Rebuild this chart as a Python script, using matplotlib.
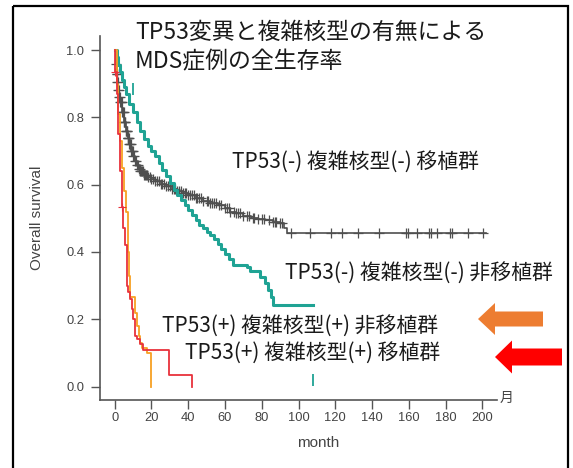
import numpy as np
import matplotlib
matplotlib.use("Agg")
import matplotlib.pyplot as plt
from matplotlib.patches import FancyArrow, Rectangle


# =====================================
# Fonts
# =====================================

plt.rcParams["font.family"] = ["Noto Sans CJK JP", "DejaVu Sans"]
LATIN = ["Liberation Sans", "DejaVu Sans"]


# =====================================
# Kaplan-Meier curves
# =====================================

# TP53(-) 複雑核型(-) 移植群  (gray)
gray_t = [0, 0.5, 1, 1.5, 2, 2.5, 3, 4, 5, 6, 7, 8, 9, 10, 11, 12, 13, 14,
          16, 18, 20, 22, 25, 28, 31, 34, 37, 40, 44, 48, 52, 56, 60, 63, 66,
          70, 74, 78, 82, 86, 90, 92, 93.5]
gray_s = [1.0, 0.96, 0.93, 0.905, 0.88, 0.86, 0.845, 0.815, 0.785, 0.76,
          0.74, 0.72, 0.70, 0.685, 0.67, 0.658, 0.648, 0.64, 0.63, 0.622,
          0.616, 0.61, 0.602, 0.596, 0.588, 0.58, 0.575, 0.568, 0.56, 0.553,
          0.546, 0.54, 0.53, 0.52, 0.515, 0.508, 0.50, 0.497, 0.494, 0.49,
          0.485, 0.47, 0.455]
gray_end = 202
gray_cens = [0.8, 1, 1.3, 1.5, 1.8, 2, 2.3, 2.5, 2.8, 3, 3.3, 3.5, 3.8, 4,
             4.3, 4.5, 4.8, 5, 5.3, 5.5, 5.8, 6, 6.3, 6.5, 6.8, 7, 7.3, 7.5,
             7.8, 8, 8.3, 8.5, 8.8, 9, 9.3, 9.5, 9.8, 10, 10.5, 11, 11.5, 12,
             12.5, 13, 13.5, 14, 14.5, 15, 15.5, 16, 16.5, 17, 17.5, 18, 19,
             20, 21, 22, 23, 24, 25, 26, 27, 28, 29, 30, 31, 32, 33, 34, 35,
             36, 37, 38, 39, 40, 41, 42, 43, 44, 45, 46, 47, 48, 50, 51, 52,
             53, 54, 55, 57, 58, 60, 61, 62, 63, 65, 66, 67, 68, 70, 72, 73,
             75, 76, 78, 80, 81, 84, 86, 87, 88, 90, 91, 95.7, 106.1, 117.5,
             123.9, 132.4, 143.8, 158.3, 159.6, 164.6, 170.9, 172.3, 175.3,
             182.2, 183.7, 192.2, 200.4]

# TP53(-) 複雑核型(-) 非移植群  (teal)
teal_t = [0, 1, 2, 3, 4, 5, 6, 8, 10, 12, 14, 16, 18, 20, 22, 24, 26, 28,
          30, 32, 34, 36, 38, 40, 42, 44, 46, 48, 50, 52, 54, 56, 58, 60, 62,
          64.5, 68, 72, 73.6, 79, 81.7, 83.5, 85.3, 86]
teal_s = [1.0, 0.98, 0.955, 0.935, 0.91, 0.89, 0.87, 0.84, 0.815, 0.785,
          0.76, 0.735, 0.715, 0.70, 0.685, 0.665, 0.645, 0.625, 0.605, 0.585,
          0.57, 0.555, 0.54, 0.525, 0.51, 0.495, 0.48, 0.47, 0.46, 0.45, 0.44,
          0.425, 0.41, 0.395, 0.38, 0.362, 0.36, 0.355, 0.342, 0.327, 0.308,
          0.287, 0.267, 0.243]
teal_end = 108
teal_tick_t = [10, 108]
teal_tick_s = [0.885, 0.02]

# TP53(+) 複雑核型(+) 移植群  (red)
red_t = [0, 0.25, 1, 2, 3, 3.8, 4.7, 5.6, 6.5, 7.5, 8.3, 9.2, 10, 11, 12,
         13.7, 15.5, 29.5, 42]
red_s = [1.0, 0.935, 0.87, 0.75, 0.64, 0.535, 0.47, 0.42, 0.30, 0.28, 0.26,
         0.23, 0.20, 0.15, 0.14, 0.125, 0.109, 0.035, 0.0]
red_cens = [0.3, 3.9]

# TP53(+) 複雑核型(+) 非移植群  (orange)
orange_t = [0, 1, 2, 3, 4, 5, 6, 7, 7.5, 8, 8.3, 11, 12, 13, 13.7, 15,
            17.4, 20]
orange_s = [1.0, 0.90, 0.81, 0.73, 0.65, 0.58, 0.52, 0.45, 0.40, 0.33,
            0.267, 0.218, 0.18, 0.15, 0.129, 0.115, 0.099, 0.0]

x_ticks = [0, 20, 40, 60, 80, 100, 120, 140, 160, 180, 200]
y_ticks = [0.0, 0.2, 0.4, 0.6, 0.8, 1.0]

title_lines = ["TP53変異と複雑核型の有無による", "MDS症例の全生存率"]
group_labels = [
    "TP53(-) 複雑核型(-) 移植群",
    "TP53(-) 複雑核型(-) 非移植群",
    "TP53(+) 複雑核型(+) 非移植群",
    "TP53(+) 複雑核型(+) 移植群",
]


def step_value(times, surv, at):
    idx = np.searchsorted(times, at, side="right") - 1
    return np.asarray(surv)[idx]


# =====================================
# Figure
# =====================================

W, H = 573, 468
fig = plt.figure(figsize=(W / 100, H / 100), dpi=100)

ax = fig.add_axes([100 / W, 1 - 400 / H, 397 / W, 364 / H])

GRAY = "#4f4f4f"
TEAL = "#1fa394"
RED = "#e8323c"
ORANGE = "#f7a023"

ax.plot(gray_t + [gray_end], gray_s + [gray_s[-1]],
        drawstyle="steps-post", color=GRAY, lw=1.2)
ax.plot(gray_cens, step_value(gray_t, gray_s, gray_cens),
        ls="none", marker="+", ms=7, mew=0.9, color=GRAY)

ax.plot(teal_t + [teal_end], teal_s + [teal_s[-1]],
        drawstyle="steps-post", color=TEAL, lw=2.2)
ax.plot(teal_tick_t, teal_tick_s,
        ls="none", marker="|", ms=9, mew=1.3, color=TEAL)

ax.plot(orange_t, orange_s, drawstyle="steps-post", color=ORANGE, lw=1.3)

ax.plot(red_t, red_s, drawstyle="steps-post", color=RED, lw=1.3)
ax.plot(red_cens, step_value(red_t, red_s, red_cens),
        ls="none", marker="+", ms=6, mew=0.8, color=RED)

ax.set_xlim(-8, 208)
ax.set_ylim(-0.04, 1.042)

ax.set_xticks(x_ticks)
ax.set_yticks(y_ticks)
ax.set_yticklabels([f"{v:.1f}" for v in y_ticks])

for side in ["top", "right"]:
    ax.spines[side].set_visible(False)
for side in ["left", "bottom"]:
    ax.spines[side].set_color("#555555")
    ax.spines[side].set_linewidth(1.2)

ax.tick_params(axis="both", direction="out", length=6.5, width=1,
               color="#555555", labelcolor="#444444", labelsize=9.3)
ax.tick_params(axis="y", pad=5)
ax.tick_params(axis="x", pad=2)
for lab in ax.get_xticklabels() + ax.get_yticklabels():
    lab.set_family(LATIN)

ax.set_facecolor("none")


# =====================================
# Overlay in pixel coordinates (texts, arrows, frame)
# =====================================

ov = fig.add_axes([0, 0, 1, 1], zorder=5)
ov.set_xlim(0, W)
ov.set_ylim(H, 0)
ov.axis("off")
ov.patch.set_alpha(0)

TXT = "#1a1a1a"

ov.text(135, 32, title_lines[0], fontsize=16.5, color=TXT, va="center")
ov.text(135, 62, title_lines[1], fontsize=16.5, color=TXT, va="center")

label_xy = [(232, 163), (285, 274), (162, 327), (185, 354)]
for (lx, ly), txt in zip(label_xy, group_labels):
    ov.text(lx, ly, txt, fontsize=15, color=TXT, va="center")

ov.text(37, 218, "Overall survival", rotation=90, fontsize=11,
        color="#444444", ha="center", va="center", family=LATIN)
ov.text(318, 443, "month", fontsize=11, color="#444444",
        ha="center", va="center", family=LATIN)
ov.text(507, 398, "月", fontsize=10, color="#444444",
        ha="center", va="center")

ov.add_patch(FancyArrow(543, 319, -65, 0, width=15, head_width=32,
                        head_length=17, length_includes_head=True,
                        color="#ed7d31", lw=0))
ov.add_patch(FancyArrow(562, 357, -67, 0, width=17, head_width=33,
                        head_length=17, length_includes_head=True,
                        color="#ff0000", lw=0))

ov.add_patch(Rectangle((13, 6), 555, 480, fill=False, ec="black", lw=1.6,
                       clip_on=False))


# =====================================
# Save Image
# =====================================

fig.savefig("out.png", dpi=100)
plt.close(fig)
